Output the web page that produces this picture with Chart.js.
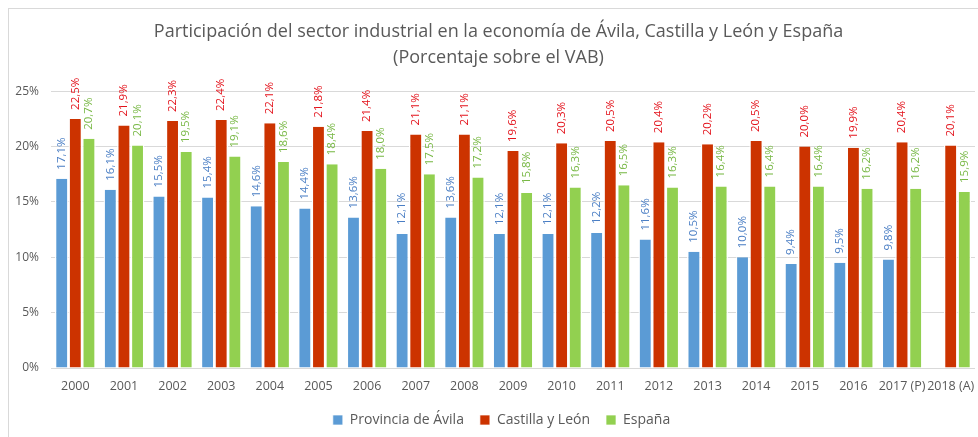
<!DOCTYPE html>
<html>
<head>
<meta charset="utf-8">
<script src="https://cdn.jsdelivr.net/npm/chart.js@4"></script>
<style>
  html, body { margin: 0; padding: 0; background: #fff; }
  #wrap { width: 978px; height: 437px; position: relative; overflow: hidden; }
</style>
</head>
<body>
<div id="wrap"><canvas id="industriaChart" width="978" height="437"></canvas></div>
<script>
const years = ["2000", "2001", "2002", "2003", "2004", "2005", "2006", "2007", "2008", "2009",
  "2010", "2011", "2012", "2013", "2014", "2015", "2016", "2017 (P)", "2018 (A)"];
const avila = [17.1, 16.1, 15.5, 15.4, 14.6, 14.4, 13.6, 12.1, 13.6, 12.1,
  12.1, 12.2, 11.6, 10.5, 10.0, 9.4, 9.5, 9.8, null];
const castillaLeon = [22.5, 21.9, 22.3, 22.4, 22.1, 21.8, 21.4, 21.1, 21.1, 19.6,
  20.3, 20.5, 20.4, 20.2, 20.5, 20.0, 19.9, 20.4, 20.1];
const espana = [20.7, 20.1, 19.5, 19.1, 18.6, 18.4, 18.0, 17.5, 17.2, 15.8,
  16.3, 16.5, 16.3, 16.4, 16.4, 16.4, 16.2, 16.2, 15.9];
const yTicks = [0, 5, 10, 15, 20, 25];

const FONT = "'Open Sans', sans-serif";
const GREY = "#595959";

// white edges on each bar so the groups show small gaps like the original
const barBorder = { left: 1.4, right: 1.4, top: 0, bottom: 0 };

// marco del gráfico
const framePlugin = {
  id: "frame",
  beforeDraw(chart) {
    const c = chart.ctx;
    c.save();
    c.strokeStyle = "#d9d9d9";
    c.lineWidth = 1;
    c.strokeRect(8.5, 8.5, 1200, 800);
    c.restore();
  }
};

// the original frame runs past the right edge, so title and legend sit a bit right of centre
const shiftPlugin = {
  id: "shift",
  afterLayout(chart) {
    const t = chart.titleBlock;
    if (t) { t.left += 11; t.right += 11; }
    const l = chart.legend;
    if (l) { l.left += 14; l.right += 14; }
  }
};

// etiquetas verticales encima de cada barra
const labelPlugin = {
  id: "vlabels",
  afterDatasetsDraw(chart) {
    const c = chart.ctx;
    chart.data.datasets.forEach((ds, i) => {
      const meta = chart.getDatasetMeta(i);
      meta.data.forEach((bar, j) => {
        const v = ds.data[j];
        if (v === null || v === undefined) return;
        c.save();
        c.translate(bar.x, bar.y - 9);
        c.rotate(-Math.PI / 2);
        c.font = "11.5px " + FONT;
        c.fillStyle = ds.labelColor;
        c.textAlign = "left";
        c.textBaseline = "middle";
        c.fillText(v.toFixed(1).replace(".", ",") + "%", 0, 0);
        c.restore();
      });
    });
  }
};

const ctx = document.getElementById("industriaChart").getContext("2d");
const chart = new Chart(ctx, {
  type: "bar",
  data: {
    labels: years,
    datasets: [
      { label: "Provincia de Ávila", data: avila, backgroundColor: "#5b9bd5",
        borderColor: "#ffffff", borderWidth: barBorder, labelColor: "#4a7ec4" },
      { label: "Castilla y León", data: castillaLeon, backgroundColor: "#cc3300",
        borderColor: "#ffffff", borderWidth: barBorder, labelColor: "#e3121b" },
      { label: "España", data: espana, backgroundColor: "#92d050",
        borderColor: "#ffffff", borderWidth: barBorder, labelColor: "#78b845" }
    ]
  },
  options: {
    responsive: false,
    animation: false,
    categoryPercentage: 0.84,
    barPercentage: 1.0,
    layout: { padding: { top: 0, left: 0, right: 3, bottom: 0 } },
    plugins: {
      title: {
        display: true,
        text: ["Participación del sector industrial en la economía de Ávila, Castilla y León y España",
               "(Porcentaje sobre el VAB)"],
        font: { family: FONT, size: 18, weight: "normal", lineHeight: 1.45 },
        color: GREY,
        padding: { top: 19, bottom: 20 }
      },
      legend: {
        position: "bottom",
        labels: {
          boxWidth: 10, boxHeight: 10, padding: 16,
          font: { family: FONT, size: 14 },
          color: GREY
        }
      },
      tooltip: { enabled: false }
    },
    scales: {
      x: {
        grid: { display: false },
        border: { display: false },
        ticks: { color: GREY, font: { family: FONT, size: 12.5 }, maxRotation: 0, autoSkip: false, padding: 3 }
      },
      y: {
        min: 0, max: 25,
        afterBuildTicks(axis) { axis.ticks = yTicks.map(v => ({ value: v })); },
        afterFit(axis) { axis.width = 51; },
        grid: { color: "#d9d9d9", drawTicks: false },
        border: { display: false },
        ticks: { color: GREY, font: { family: FONT, size: 12 }, padding: 12,
          callback: v => v + "%" }
      }
    }
  },
  plugins: [framePlugin, shiftPlugin, labelPlugin]
});
</script>
</body>
</html>
